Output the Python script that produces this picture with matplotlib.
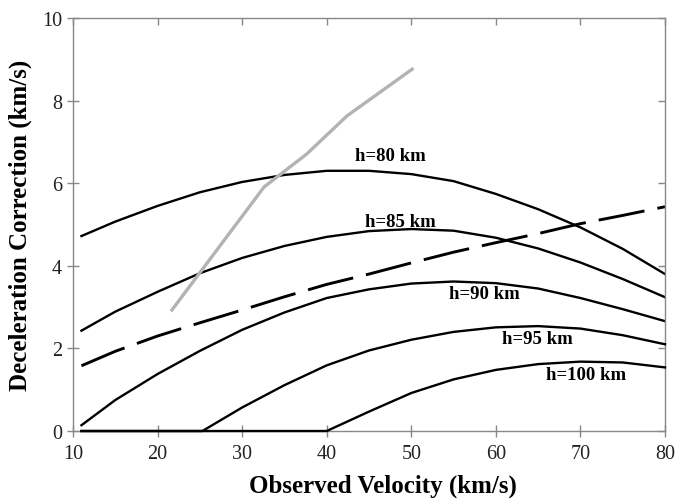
import numpy as np
import matplotlib.pyplot as plt

plt.rcParams["font.family"] = ["Liberation Serif", "DejaVu Serif"]

# Observed velocity grid (km/s)
v = [11, 15, 20, 25, 30, 35, 40, 45, 50, 55, 60, 65, 70, 75, 80]

# Deceleration correction (km/s) for each height
h80 = [4.72, 5.07, 5.45, 5.78, 6.03, 6.2, 6.3, 6.3, 6.22, 6.05, 5.74, 5.37, 4.93, 4.41, 3.8]
h85 = [2.43, 2.89, 3.37, 3.82, 4.19, 4.48, 4.7, 4.84, 4.89, 4.85, 4.68, 4.42, 4.08, 3.68, 3.24]
h90 = [0.14, 0.75, 1.38, 1.94, 2.45, 2.87, 3.22, 3.43, 3.57, 3.62, 3.58, 3.45, 3.22, 2.95, 2.66]

v95 = [11, 25.3, 30, 35, 40, 45, 50, 55, 60, 65, 70, 75, 80]
h95 = [0, 0, 0.57, 1.11, 1.59, 1.95, 2.21, 2.4, 2.51, 2.54, 2.48, 2.32, 2.1]

v100 = [11, 40, 45, 50, 55, 60, 65, 70, 75, 80]
h100 = [0, 0, 0.47, 0.92, 1.25, 1.48, 1.62, 1.68, 1.66, 1.54]

# dashed reference curve
dashed = [1.58, 1.93, 2.3, 2.62, 2.93, 3.25, 3.55, 3.8, 4.07, 4.33, 4.56, 4.78, 5.02, 5.22, 5.43]

# grey measured curve
v_grey = [21.7, 32.6, 37.6, 42.4, 50.1]
grey = [2.93, 5.91, 6.7, 7.63, 8.76]

labels = ["h=80 km", "h=85 km", "h=90 km", "h=95 km", "h=100 km"]
label_xy = [(47.5, 6.66), (48.7, 5.08), (58.7, 3.34), (64.9, 2.25), (70.7, 1.36)]

fig = plt.figure(figsize=(6.86, 5.02), dpi=100)
ax = fig.add_axes([0.1064, 0.1394, 0.863, 0.8228])

for yy in (h80, h85, h90):
    ax.plot(v, yy, color="black", lw=1.7)
# flat parts sit on the x axis, leave them unclipped so they show full width
ax.plot(v95, h95, color="black", lw=1.7, clip_on=False, zorder=3)
ax.plot(v100, h100, color="black", lw=1.7, clip_on=False, zorder=3)
ax.plot(v, dashed, color="black", lw=2.1, dashes=(16, 4.5))
ax.plot(v_grey, grey, color="#b3b3b3", lw=2.4)

for txt, (x, y) in zip(labels, label_xy):
    ax.text(x, y, txt, ha="center", va="center", fontsize=13.5, fontweight="bold")

ax.set_xlim(10, 80)
ax.set_ylim(0, 10)
ax.set_xticks(np.arange(10, 81, 10))
ax.set_yticks(np.arange(0, 11, 2))

for s in ax.spines.values():
    s.set_color("#888888")
    s.set_linewidth(1.0)
ax.tick_params(axis="both", color="#888888", labelsize=14.5,
               length=9, width=1.0, direction="inout", labelcolor="#222222")
ax.tick_params(axis="x", pad=5)

# inward-only ticks on the top and right edges
top = ax.secondary_xaxis("top")
top.set_xticks(np.arange(10, 81, 10))
top.tick_params(direction="in", length=5, width=1.0, color="#888888", labeltop=False)
top.spines["top"].set_visible(False)
right = ax.secondary_yaxis("right")
right.set_yticks(np.arange(0, 11, 2))
right.tick_params(direction="in", length=5, width=1.0, color="#888888", labelright=False)
right.spines["right"].set_visible(False)

ax.set_xlabel("Observed Velocity (km/s)", fontsize=18, fontweight="bold")
ax.xaxis.set_label_coords(0.524, -0.103)
ax.set_ylabel("Deceleration Correction (km/s)", fontsize=18, fontweight="bold", labelpad=7)

fig.savefig("out.png", dpi=100)
